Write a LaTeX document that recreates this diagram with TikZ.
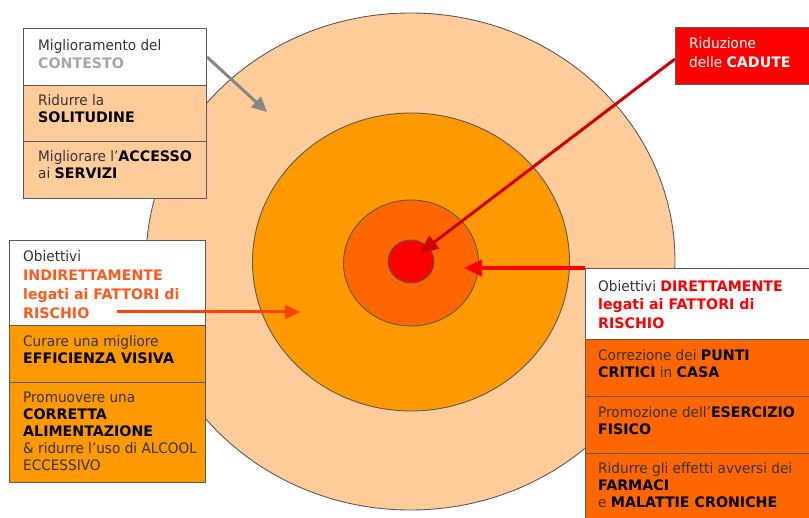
\documentclass[tikz,border=0pt]{standalone}
\usepackage{fontspec}
\setmainfont[FakeStretch=0.94]{DejaVu Sans}
\newfontface\bfam[FakeStretch=0.98]{DejaVu Sans Bold}
\usetikzlibrary{shapes.geometric,arrows.meta}
\definecolor{peach}{HTML}{FFCC99}
\definecolor{orangeA}{HTML}{FF9900}
\definecolor{orangeB}{HTML}{FF6600}
\definecolor{redC}{HTML}{FF0000}
\definecolor{bordc}{HTML}{595959}
\definecolor{indir}{HTML}{FF5A1E}
\definecolor{larrow}{HTML}{FF4000}
\definecolor{darkred}{HTML}{D00000}
\definecolor{contc}{HTML}{A6A6A6}
\definecolor{txtc}{HTML}{333333}
\tikzset{
  ring/.style={ellipse, draw=bordc, line width=0.9pt, inner sep=0pt},
  boxsec/.style={draw=bordc, line width=1pt, anchor=north west, inner sep=0pt},
  txt/.style={anchor=north west, inner sep=0pt, align=left, text=txtc},
  t17/.style={font=\fontsize{14.5}{17}\selectfont},
  t18/.style={font=\fontsize{14.5}{18}\selectfont},
  t185/.style={font=\fontsize{14.5}{18.5}\selectfont},
  t19/.style={font=\fontsize{14.5}{19}\selectfont},
  arr/.style={line width=3pt},
}
\newcommand{\bb}[1]{{\bfam\color{black}#1}}
\newcommand{\bc}[2]{{\bfam\color{#1}#2}}
\begin{document}
\begin{tikzpicture}[x=1pt,y=-1pt]
\useasboundingbox (0,0) rectangle (809,518);
% rings
\node[ring, fill=peach, minimum width=529, minimum height=497] (outer) at (410.5,261.5) {};
\node[ring, fill=orangeA, minimum width=317, minimum height=298] (middle) at (411,262) {};
\node[ring, fill=orangeB, minimum width=135, minimum height=126] (inner) at (411,263) {};
\node[ring, fill=redC, minimum width=46, minimum height=43] (core) at (411,261.5) {};

% box 1
\node[boxsec, fill=white, minimum width=183, minimum height=57] (b1h) at (23,28) {};
\node[boxsec, fill=peach, minimum width=183, minimum height=56] (b1a) at (23,85) {};
\node[boxsec, fill=peach, minimum width=183, minimum height=57] (b1b) at (23,141) {};
\node[txt, t18] (b1ht) at (38,37.4) {\strut Miglioramento del\\\bc{contc}{CONTESTO}};
\node[txt, t17] (b1at) at (38,93.1) {\strut Ridurre la\\\bb{SOLITUDINE}};
\node[txt, t17] (b1bt) at (38,149.1) {\strut Migliorare l’\bb{ACCESSO}\\ai \bb{SERVIZI}};

% red box
\node[boxsec, fill=redC, minimum width=140, minimum height=57] (rb) at (675,27) {};
\node[txt, t19, text=white] (rbt) at (689,34.7) {\strut Riduzione\\delle \bc{white}{CADUTE}};

% box 2
\node[boxsec, fill=white, minimum width=196, minimum height=85] (b2h) at (9,240) {};
\node[boxsec, fill=orangeA, minimum width=196, minimum height=57] (b2a) at (9,325) {};
\node[boxsec, fill=orangeA, minimum width=196, minimum height=100] (b2b) at (9,382) {};
\node[txt, t19] (b2ht) at (23,247.7) {\strut Obiettivi\\\bc{indir}{INDIRETTAMENTE}\\\bc{indir}{legati ai FATTORI di}\\\bc{indir}{RISCHIO}};
\node[txt, t17] (b2at) at (23,334.1) {\strut Curare una migliore\\\bb{EFFICIENZA VISIVA}};
\node[txt, t17] (b2bt) at (23,390.1) {\strut Promuovere una\\\bb{CORRETTA}\\\bb{ALIMENTAZIONE}\\\& ridurre l’uso di ALCOOL\\ECCESSIVO};

% box 3
\node[boxsec, fill=white, minimum width=230, minimum height=71] (b3h) at (585,268) {};
\node[boxsec, fill=orangeB, minimum width=230, minimum height=57] (b3a) at (585,339) {};
\node[boxsec, fill=orangeB, minimum width=230, minimum height=57] (b3b) at (585,396) {};
\node[boxsec, fill=orangeB, minimum width=230, minimum height=70] (b3c) at (585,453) {};
\node[txt, t185] (b3ht) at (598,278.05) {\strut Obiettivi \bc{redC}{DIRETTAMENTE}\\\bc{redC}{legati ai FATTORI di}\\\bc{redC}{RISCHIO}};
\node[txt, t17] (b3at) at (598,348.1) {\strut Correzione dei \bb{PUNTI}\\\bb{CRITICI} in \bb{CASA}};
\node[txt, t17] (b3bt) at (598,405.1) {\strut Promozione dell’\bb{ESERCIZIO}\\\bb{FISICO}};
\node[txt, t17] (b3ct) at (598,461.1) {\strut Ridurre gli effetti avversi dei\\\bb{FARMACI}\\e \bb{MALATTIE CRONICHE}};

% arrows
\coordinate (gtip) at (267,112);
\coordinate (rtip) at (420,253);
\coordinate (ltail) at (117,312);
\coordinate (ltip) at (300,312);
\coordinate (dtip) at (464,268);
\draw[arr, draw=gray!95, -{Triangle[length=15pt,width=14pt]}] (b1h.east) -- (gtip);
\draw[arr, draw=darkred, -{Triangle[length=18pt,width=16pt]}] (rb.west) ++(0,3) -- (rtip);
\draw[arr, draw=larrow, -{Triangle[length=15pt,width=14pt]}] (ltail) -- (ltip);
\draw[arr, draw=redC, line width=4pt, -{Triangle[length=18pt,width=16pt]}] (b3h.north west) -- (dtip);
\end{tikzpicture}
\end{document}
